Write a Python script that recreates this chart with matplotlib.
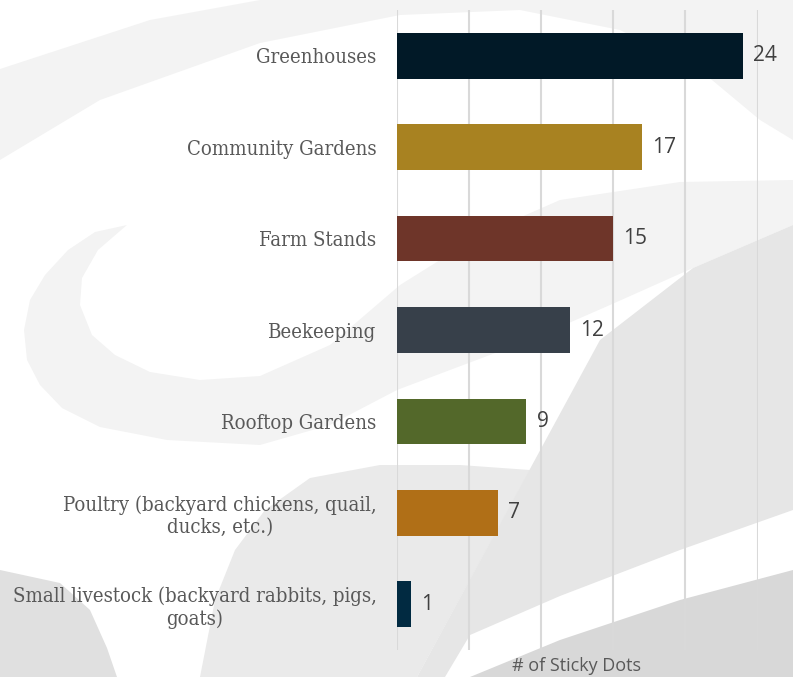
import matplotlib
matplotlib.use('Agg')
import matplotlib.pyplot as plt
from matplotlib.patches import Polygon

# data
categories = ['Greenhouses', 'Community Gardens', 'Farm Stands', 'Beekeeping',
              'Rooftop Gardens', 'Poultry (backyard chickens, quail,\nducks, etc.)',
              'Small livestock (backyard rabbits, pigs,\ngoats)']
counts = [24, 17, 15, 12, 9, 7, 1]
colors = ['#011927', '#A88221', '#6E3529', '#37404A', '#53682A', '#B06F17', '#012A41']
xticks = [0, 5, 10, 15, 20, 25]

W, H = 793, 677
fig = plt.figure(figsize=(W / 100, H / 100), dpi=100)
fig.patch.set_facecolor('white')

# faint watermark swirl behind the chart (pixel coords, y down)
bg = fig.add_axes([0, 0, 1, 1], zorder=0)
bg.set_xlim(0, W)
bg.set_ylim(H, 0)
bg.axis('off')
shapes = [
    # top arc
    ('#f3f3f3', [(0, 69), (150, 20), (260, 0), (793, 0), (793, 140), (760, 120), (700, 70),
                 (620, 30), (520, 10), (400, 15), (260, 43), (100, 100), (0, 160)]),
    # crescent and band rising to the right
    ('#f3f3f3', [(127, 225), (95, 232), (68, 250), (45, 275), (30, 300), (24, 330), (27, 360),
                 (40, 385), (62, 408), (100, 427), (167, 440), (260, 445), (330, 425),
                 (397, 390), (450, 370), (530, 340), (610, 305), (693, 268), (793, 225),
                 (793, 180), (680, 182), (560, 200), (480, 235), (400, 285), (330, 345),
                 (260, 376), (200, 380), (150, 372), (115, 355), (92, 335), (80, 305),
                 (82, 278), (98, 250)]),
    # bottom-left blob
    ('#e0e0e0', [(0, 570), (60, 583), (90, 610), (107, 648), (117, 677), (0, 677)]),
    # bottom-centre dome
    ('#eaeaea', [(200, 677), (215, 600), (235, 550), (265, 510), (310, 478), (380, 465),
                 (460, 465), (530, 470), (417, 677)]),
    # main swoosh
    ('#e6e6e6', [(417, 677), (600, 340), (693, 268), (793, 225), (793, 510),
                 (680, 550), (560, 596), (470, 635), (445, 677)]),
    # bottom-right wedge
    ('#d8d8d8', [(470, 677), (560, 640), (680, 600), (793, 570), (793, 677)]),
]
for c, pts in shapes:
    bg.add_patch(Polygon(pts, closed=True, facecolor=c, edgecolor='none'))

# main chart
left, right, top, bottom = 396.5, 757.5, 10, 650
ax = fig.add_axes([left / W, 1 - bottom / H, (right - left) / W, (bottom - top) / H], zorder=1)
ax.patch.set_alpha(0)

y = list(range(len(categories)))
ax.barh(y, counts, height=0.5, color=colors, zorder=3)
for yi, v in zip(y, counts):
    ax.text(v + 0.7, yi, str(v), va='center', ha='left', fontsize=15,
            family='Open Sans', color='#404040', zorder=4)

ax.set_xlim(0, 25)
ax.set_ylim(len(categories) - 0.5, -0.5)
ax.set_xticks(xticks)
ax.tick_params(axis='x', length=0, labelbottom=False)
ax.tick_params(axis='y', length=0, pad=14.4)
ax.set_yticks(y)
ax.set_yticklabels(categories, family='DejaVu Serif', fontstretch='condensed', fontsize=14.6,
                   color='#595959', multialignment='center', linespacing=1.2)
ax.grid(axis='x', color='#d9d9d9', linewidth=1.5, zorder=0)
for s in ax.spines.values():
    s.set_visible(False)

fig.text(577 / W, 1 - 657 / H, '# of Sticky Dots', ha='center', va='top',
         fontsize=13, family='Open Sans', color='#595959')

fig.savefig('out.png', dpi=100, facecolor='white')
